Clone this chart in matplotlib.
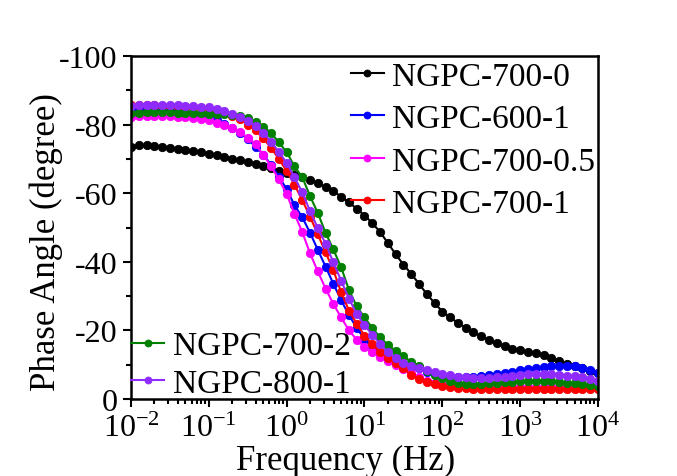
import numpy as np
import matplotlib
matplotlib.use("Agg")
from matplotlib import pyplot as plt
from matplotlib.ticker import LogLocator, MultipleLocator, NullFormatter

plt.rcParams['font.family'] = ['Liberation Serif', 'DejaVu Serif']
plt.rcParams['mathtext.fontset'] = 'custom'
plt.rcParams['mathtext.rm'] = 'Liberation Serif'
plt.rcParams['mathtext.it'] = 'Liberation Serif:italic'
plt.rcParams['axes.unicode_minus'] = False

# frequency grid: 10 points per decade, 1e-2 .. 1e4 Hz
freq = np.logspace(-2, 4, 61)

# phase angle magnitudes (degree)
ngpc_700_0 = [73.6, 74.0, 74.0, 73.8, 73.5, 73.2, 72.9, 72.6, 72.3, 71.9,
              71.5, 71.1, 70.6, 70.1, 69.6, 69.1, 68.5, 67.9, 67.3, 66.6,
              66.0, 65.3, 64.6, 63.9, 62.9, 61.8, 60.6, 59.0, 57.3, 55.5,
              53.5, 51.3, 48.7, 45.5, 42.2, 39.2, 36.5, 33.6, 30.6, 28.0,
              25.5, 23.8, 22.2, 20.8, 19.5, 18.3, 17.2, 16.2, 15.4, 14.7,
              14.2, 13.8, 13.3, 12.8, 12.0, 11.1, 10.3, 9.6, 9.0, 8.3, 7.5]
ngpc_600_1 = [84.5, 84.6, 84.6, 84.5, 84.4, 84.2, 84.0, 83.7, 83.3, 82.8,
              82.1, 81.3, 80.3, 79.0, 77.5, 75.8, 73.6, 71.2, 68.3, 64.8,
              61.2, 56.5, 53.0, 48.5, 43.5, 38.6, 33.6, 28.8, 24.5, 20.7,
              17.5, 15.0, 13.0, 11.5, 10.4, 9.6, 9.2, 9.0, 8.0, 7.3,
              6.8, 6.5, 6.4, 6.4, 6.5, 6.7, 7.0, 7.2, 7.6, 8.0,
              8.4, 8.8, 9.1, 9.4, 9.6, 9.7, 9.7, 9.5, 9.1, 8.5, 7.6]
ngpc_700_05 = [82.2, 82.4, 82.5, 82.5, 82.5, 82.4, 82.3, 82.2, 82.0, 81.7,
               81.3, 80.6, 79.8, 78.9, 77.8, 76.2, 74.2, 71.2, 67.8, 64.0,
               59.8, 54.0, 48.7, 42.5, 37.2, 32.2, 27.7, 23.8, 20.0, 17.3,
               15.2, 13.6, 12.2, 11.0, 9.8, 8.7, 7.5, 6.3, 5.3, 4.6,
               4.1, 3.8, 3.6, 3.5, 3.4, 3.4, 3.4, 3.4, 3.4, 3.4,
               3.4, 3.4, 3.4, 3.4, 3.4, 3.4, 3.4, 3.4, 3.4, 3.4, 3.4]
ngpc_700_1 = [85.8, 85.8, 85.7, 85.6, 85.5, 85.4, 85.3, 85.2, 85.0, 84.8,
              84.5, 84.1, 83.5, 82.6, 81.5, 80.0, 78.3, 76.0, 73.2, 70.0,
              66.5, 62.5, 58.0, 53.2, 48.0, 42.8, 37.5, 31.2, 25.8, 22.0,
              18.5, 16.0, 13.8, 12.0, 10.6, 8.9, 7.0, 5.7, 4.9, 4.3,
              3.8, 3.5, 3.3, 3.1, 3.0, 2.9, 2.9, 2.9, 2.9, 2.9,
              2.9, 2.9, 2.9, 2.9, 2.9, 2.9, 2.9, 2.9, 2.9, 2.9, 2.9]
ngpc_700_2 = [83.3, 83.5, 83.6, 83.6, 83.6, 83.6, 83.5, 83.5, 83.4, 83.3,
              83.2, 83.1, 83.0, 82.9, 82.6, 81.9, 80.8, 79.3, 77.6, 74.8,
              72.0, 67.8, 64.7, 59.2, 54.2, 48.5, 43.6, 38.4, 31.8, 27.0,
              23.8, 20.7, 18.0, 15.8, 14.0, 12.4, 10.9, 9.7, 8.3, 7.0,
              6.0, 5.2, 4.6, 4.4, 4.4, 4.5, 4.6, 4.8, 5.0, 5.1,
              5.2, 5.3, 5.3, 5.3, 5.2, 5.0, 4.8, 4.6, 4.3, 4.0, 3.8]
ngpc_800_1 = [85.5, 85.6, 85.7, 85.7, 85.7, 85.6, 85.6, 85.5, 85.4, 85.2,
              85.0, 84.6, 84.0, 83.2, 82.3, 81.0, 79.6, 77.6, 75.0, 72.0,
              68.8, 64.6, 60.3, 54.8, 49.8, 45.3, 39.8, 34.5, 29.3, 24.8,
              21.5, 18.8, 16.0, 13.6, 11.9, 10.6, 9.7, 9.0, 8.5, 7.9,
              7.3, 6.9, 6.5, 6.3, 6.2, 6.2, 6.2, 6.3, 6.5, 6.7,
              7.0, 7.2, 7.3, 7.3, 7.2, 7.0, 6.8, 6.6, 6.3, 5.8, 5.3]

series = [
    ("NGPC-700-0", ngpc_700_0, "black"),
    ("NGPC-600-1", ngpc_600_1, "#0000ff"),
    ("NGPC-700-0.5", ngpc_700_05, "#ff00ff"),
    ("NGPC-700-1", ngpc_700_1, "#ff0000"),
    ("NGPC-700-2", ngpc_700_2, "#008000"),
    ("NGPC-800-1", ngpc_800_1, "#8f2bff"),
]

fig = plt.figure(figsize=(6.77, 4.77), dpi=100)
ax = fig.add_axes([0.1935, 0.1614, 0.6898, 0.7191])

lines = []
for name, vals, col in series:
    ln, = ax.plot(freq, -np.array(vals), color=col, lw=1.5, marker='o',
                  ms=6, mfc=col, mec=col, mew=0.6, label=name)
    lines.append(ln)

ax.set_xscale('log')
ax.set_xlim(1e-2, 1e4)
ax.set_ylim(0, -100)
ax.xaxis.set_major_locator(LogLocator(base=10, numticks=10))
ax.xaxis.set_minor_locator(LogLocator(base=10, subs=np.arange(2, 10), numticks=20))
ax.xaxis.set_minor_formatter(NullFormatter())
ax.yaxis.set_major_locator(MultipleLocator(20))
ax.yaxis.set_minor_locator(MultipleLocator(10))

ax.tick_params(which='both', direction='out', top=False, right=False,
               labelsize=23, width=1.5)
ax.tick_params(which='major', length=6)
ax.tick_params(which='minor', length=3.5)
ax.tick_params(axis='x', pad=5)
for s in ax.spines.values():
    s.set_linewidth(1.8)

ax.set_xlabel("Frequency (Hz)", fontsize=25)
ax.set_ylabel("Phase Angle (degree)", fontsize=25)
ax.xaxis.set_label_coords(0.46, -0.13)
ax.yaxis.set_label_coords(-0.146, 0.46)

leg_kw = dict(frameon=False, fontsize=24, numpoints=1, handlelength=1.0,
              handletextpad=0.25, borderaxespad=0)
leg1 = ax.legend(handles=lines[:4], loc='upper left', bbox_to_anchor=(0.46, 1.0),
                 labelspacing=0.36, borderpad=0.15, **leg_kw)
for h in leg1.legend_handles:
    h.set_markersize(5)
ax.add_artist(leg1)
leg2 = ax.legend(handles=lines[4:], loc='lower left', bbox_to_anchor=(0.0, 0.0),
                 labelspacing=0.22, borderpad=0.0, **leg_kw)
for h in leg2.legend_handles:
    h.set_markersize(5)

fig.savefig("out.png", dpi=100)
